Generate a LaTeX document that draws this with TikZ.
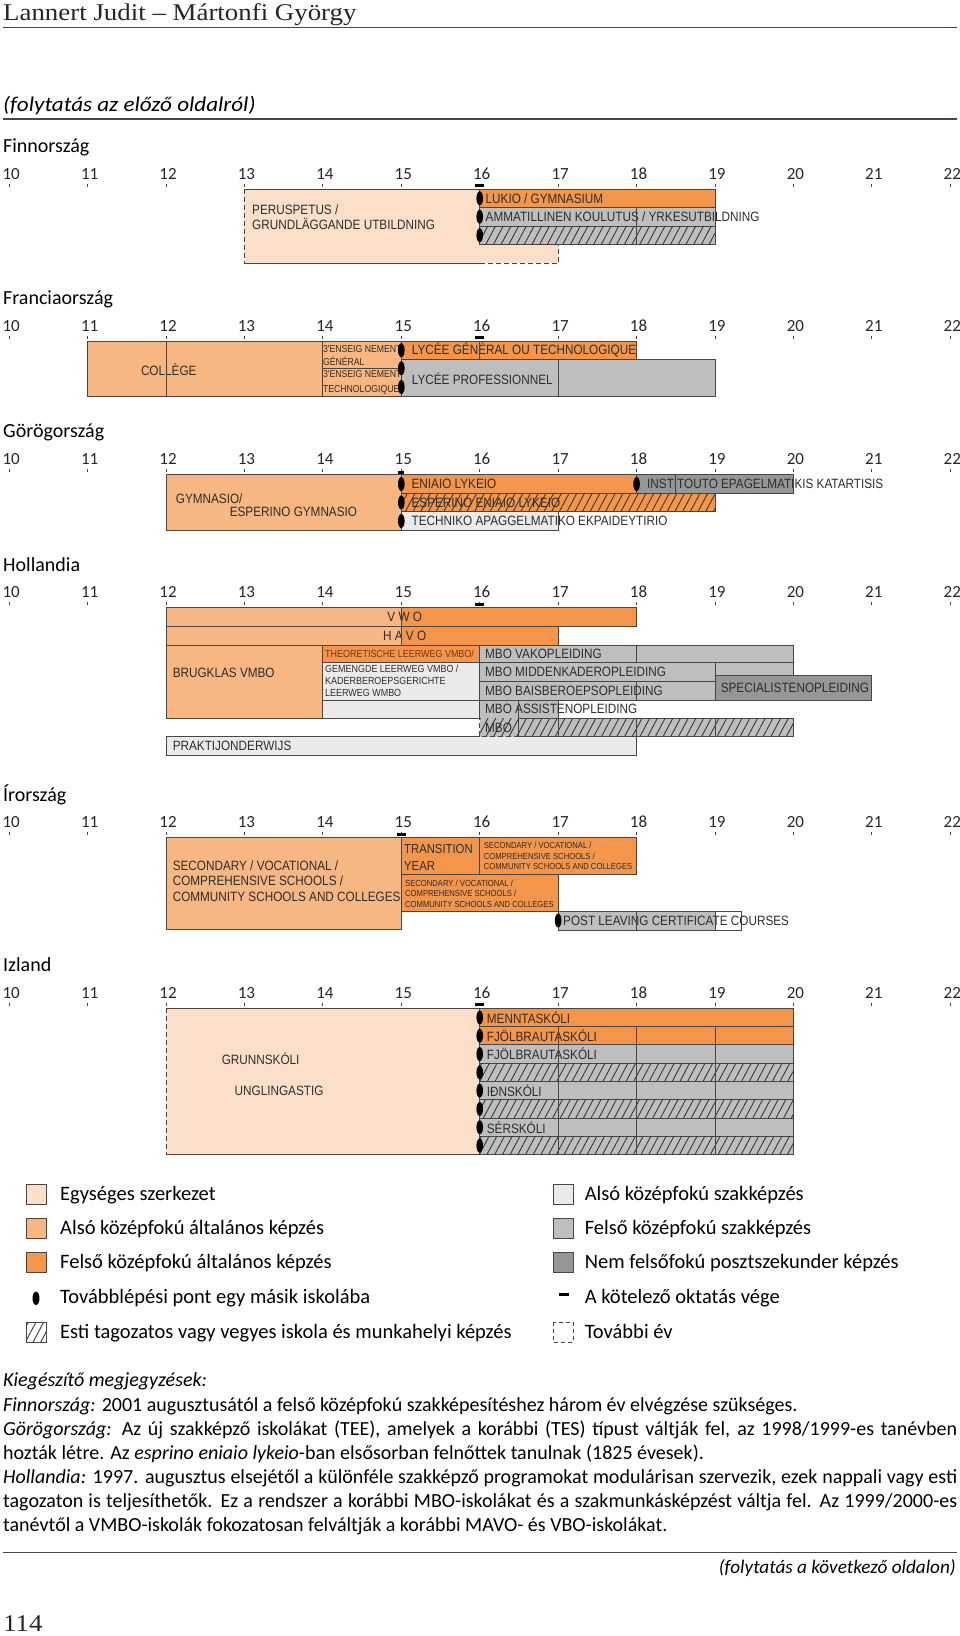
\documentclass[tikz,border=0pt]{standalone}
\usepackage{fontspec}
\newfontfamily\gill{Carlito}
\newfontfamily\barfont[FakeStretch=0.87]{Liberation Sans}
\newfontfamily\headfont[FakeStretch=1.12]{Liberation Serif}
\usetikzlibrary{patterns.meta}

\definecolor{egyseg}{RGB}{251,223,201}
\definecolor{alsoalt}{RGB}{246,183,130}
\definecolor{felsoalt}{RGB}{243,150,76}
\definecolor{alsosz}{RGB}{234,234,234}
\definecolor{felsosz}{RGB}{190,190,190}
\definecolor{poszt}{RGB}{150,150,150}
\definecolor{linec}{RGB}{75,68,64}
\definecolor{txtc}{RGB}{45,45,45}
\definecolor{hatchc}{RGB}{55,55,55}
\definecolor{theorc}{RGB}{130,45,15}

\tikzstyle{box} = [draw=linec, line width=0.9pt]
\tikzstyle{further} = [dash pattern=on 5pt off 3pt]
\tikzstyle{hatched} = [postaction={pattern={Lines[angle=62,distance=6.8pt,line width=0.9pt]}, pattern color=hatchc}]
\tikzstyle{lbl} = [anchor=west, inner sep=0pt, text=txtc, font=\barfont\fontsize{13.5}{15.7}\selectfont]
\tikzstyle{slbl} = [lbl, font=\barfont\fontsize{10.3}{12}\selectfont]
\tikzstyle{tlbl} = [lbl, font=\barfont\fontsize{8.8}{10.5}\selectfont]
\tikzstyle{ctitle} = [anchor=base west, inner sep=0pt, font=\gill\fontsize{20}{24}\selectfont]
\tikzstyle{yearlbl} = [anchor=base, inner sep=0pt, text=black!85, font=\gill\fontsize{17}{20}\selectfont]
\tikzstyle{legtext} = [anchor=base west, inner sep=0pt, font=\gill\fontsize{20.5}{24}\selectfont]
\tikzstyle{note} = [anchor=base west, inner sep=0pt, font=\gill\fontsize{20}{24}\selectfont]

\begin{document}
\begin{tikzpicture}[x=1pt, y=-1pt, declare function={yx(\a)=9.2+78.42*(\a-10);}]
\useasboundingbox (0,0) rectangle (960,1636);

% header
\node[anchor=base west, inner sep=0pt, text=black!85, font=\headfont\fontsize{24}{28}\selectfont] at (3,20.7) (author) {Lannert Judit – Mártonfi György};
\draw[line width=1.3pt, linec] (3,27.8) -- (957,27.8);
\node[anchor=base west, inner sep=0pt, font=\gill\itshape\fontsize{21}{24}\selectfont\addfontfeatures{FakeStretch=1.1}] at (3,111) (contprev) {(folytatás az előző oldalról)};
\draw[line width=1.3pt, linec] (3,119) -- (957,119);

\node[ctitle] at (3,152.8) (fi) {Finnország};
\node[ctitle] at (3,304.5) (fr) {Franciaország};
\node[ctitle] at (3,437.8) (gr) {Görögország};
\node[ctitle] at (3,571.2) (nl) {Hollandia};
\node[ctitle] at (3,801.2) (ie) {Írország};
\node[ctitle] at (3,971.8) (is) {Izland};

% age axes
\foreach \c/\t in {fi/189.3, fr/341, gr/474.3, nl/607.7, ie/837.7, is/1008.3} {
  \foreach \a in {10,...,22} {
    \node[yearlbl] at ({yx(\a)+2},\t-10) (\c-\a) {\a};
    \draw[line width=0.8pt, linec] ({yx(\a)},\t-5.5) -- ({yx(\a)},\t-2.5);
  }
}

% Finnorszag
\fill[egyseg] ({yx(13)},189.3) rectangle ({yx(16)},263.3);
\fill[egyseg] ({yx(16)},244.3) rectangle ({yx(17)},263.3);
\draw[box] ({yx(13)},189.3) -- ({yx(16)},189.3);
\draw[box] ({yx(13)},263.3) -- ({yx(16)},263.3);
\draw[box, further] ({yx(13)},189.3) -- ({yx(13)},263.3);
\draw[box, further] ({yx(16)},263.3) -- ({yx(17)},263.3) -- ({yx(17)},244.3);
\filldraw[box, fill=felsoalt] ({yx(16)},189.3) rectangle ({yx(19)},207.3);
\filldraw[box, fill=felsosz] ({yx(16)},207.3) rectangle ({yx(19)},226);
\filldraw[box, fill=felsosz, hatched] ({yx(16)},226) rectangle ({yx(19)},244.3);
\node[lbl, align=left] at (252,217.2) (fi-perus) {PERUSPETUS /\\GRUNDLÄGGANDE UTBILDNING};
\node[lbl] at (485.5,198.3) (fi-lukio) {LUKIO / GYMNASIUM};
\node[lbl] at (485.5,216.7) (fi-ammat) {AMMATILLINEN KOULUTUS / YRKESUTBILDNING};
\draw[box] ({yx(18)},207.3) -- ({yx(18)},244.3);
\foreach \y in {198.3,216.7,235.2}
  \fill[black] ({yx(16)},\y) ellipse [x radius=3.3pt, y radius=7pt];
\fill[black] ({yx(16)-4.5},184.3) rectangle ({yx(16)+4.5},187.3);

% Franciaorszag
\filldraw[box, fill=alsoalt] ({yx(11)},341) rectangle ({yx(14)},396.7);
\filldraw[box, fill=alsoalt] ({yx(14)},341) rectangle ({yx(15)},368.3);
\filldraw[box, fill=alsoalt] ({yx(14)},368.3) rectangle ({yx(15)},396.7);
\filldraw[box, fill=felsoalt] ({yx(15)},341) rectangle ({yx(18)},359.3);
\filldraw[box, fill=felsosz] ({yx(15)},359.3) rectangle ({yx(19)},396.7);
\node[lbl] at (140.8,369.3) (fr-college) {COLLÈGE};
\node[lbl, font=\barfont\fontsize{10}{13}\selectfont, align=left] at (322.8,355.3) (fr-gen) {3'ENSEIG NEMENT\\GÉNÉRAL};
\node[lbl, font=\barfont\fontsize{10}{14.5}\selectfont, align=left] at (322.8,382.3) (fr-tech) {3'ENSEIG NEMENT\\TECHNOLOGIQUE};
\node[lbl] at (411.7,350.2) (fr-lycgen) {LYCÉE GÉNÉRAL OU TECHNOLOGIQUE};
\node[lbl] at (411.7,378.3) (fr-lycpro) {LYCÉE PROFESSIONNEL};
\draw[box] ({yx(12)},341) -- ({yx(12)},396.7);
\draw[box] ({yx(16)},341) -- ({yx(16)},359.3);
\draw[box] ({yx(17)},359.3) -- ({yx(17)},396.7);
\foreach \y in {350.2,368.3,387}
  \fill[black] ({yx(15)},\y) ellipse [x radius=3.3pt, y radius=7pt];
\fill[black] ({yx(16)-4.5},336) rectangle ({yx(16)+4.5},339);

% Gorogorszag
\filldraw[box, fill=alsoalt] ({yx(12)},474.3) rectangle ({yx(15)},530);
\filldraw[box, fill=felsoalt] ({yx(15)},474.3) rectangle ({yx(18)},493.3);
\filldraw[box, fill=poszt] ({yx(18)},474.3) rectangle ({yx(20)},493.3);
\filldraw[box, fill=felsoalt, hatched] ({yx(15)},493.3) rectangle ({yx(19)},511.7);
\filldraw[box, fill=alsosz] ({yx(15)},511.7) rectangle ({yx(17)},530);
\node[lbl] at (175.7,499) (gr-gymn) {GYMNASIO/};
\node[lbl] at (229.6,512) (gr-esgymn) {ESPERINO GYMNASIO};
\node[lbl] at (411.4,484) (gr-eniaio) {ENIAIO LYKEIO};
\node[lbl] at (647,484) (gr-iek) {INSTITOUTO EPAGELMATIKIS KATARTISIS};
\node[lbl] at (411.4,502.5) (gr-espen) {ESPERINO ENIAIO LYKEIO};
\node[lbl] at (411.4,521) (gr-tee) {TECHNIKO APAGGELMATIKO EKPAIDEYTIRIO};
\draw[box] ({yx(18.5)},474.3) -- ({yx(18.5)},493.3);
\draw[box] ({yx(20)},474.3) -- ({yx(20)},493.3);
\draw[box] ({yx(17)},511.7) -- ({yx(17)},530);
\foreach \y in {484,502.5,521}
  \fill[black] ({yx(15)},\y) ellipse [x radius=3.3pt, y radius=7pt];
\fill[black] ({yx(18)},484) ellipse [x radius=3.3pt, y radius=7pt];
\fill[black] ({yx(15)-3},471.3) rectangle ({yx(15)+3},474.3);

% Hollandia
\fill[alsoalt] ({yx(12)},607.7) rectangle ({yx(15)},645);
\fill[felsoalt] ({yx(15)},607.7) rectangle ({yx(18)},626.7);
\fill[felsoalt] ({yx(15)},626.7) rectangle ({yx(17)},645);
\draw[box] ({yx(12)},607.7) rectangle ({yx(18)},626.7);
\draw[box] ({yx(12)},626.7) rectangle ({yx(17)},645);
\filldraw[box, fill=alsosz] ({yx(12)},736.7) rectangle ({yx(18)},755);
\filldraw[box, fill=alsoalt] ({yx(12)},645) rectangle ({yx(14)},718.3);
\filldraw[box, fill=felsoalt] ({yx(14)},645) rectangle ({yx(16)},662);
\filldraw[box, fill=alsosz] ({yx(14)},662) rectangle ({yx(16)},718.3);
\filldraw[box, fill=felsosz] ({yx(16)},645) rectangle ({yx(20)},662);
\filldraw[box, fill=felsosz] ({yx(16)},662) rectangle ({yx(20)},681);
\filldraw[box, fill=felsosz] ({yx(16)},681) rectangle ({yx(19)},700);
\filldraw[box, fill=poszt] ({yx(19)},675) rectangle ({yx(21)},700);
\filldraw[box, fill=felsosz] ({yx(16)},700) rectangle ({yx(17)},718.3);
\fill[felsosz, hatched] ({yx(16)},718.3) rectangle ({yx(20)},736.7);
\draw[box] ({yx(16.5)},718.3) -- ({yx(20)},718.3) -- ({yx(20)},736.7) -- ({yx(16.5)},736.7);
\draw[box, further] ({yx(16.5)},736.7) -- ({yx(16)},736.7) -- ({yx(16)},718.3);
\node[lbl] at (404,617.2) (nl-vwo) {\makebox[0pt]{V W O}};
\node[lbl] at (404,636) (nl-havo) {\makebox[0pt]{H A V O}};
\node[lbl] at (172.6,673.3) (nl-brug) {BRUGKLAS VMBO};
\node[slbl, text=theorc] at (325,654) (nl-theor) {THEORETISCHE LEERWEG VMBO/};
\node[slbl, align=left] at (325,681.3) (nl-gemengde) {GEMENGDE LEERWEG VMBO /\\KADERBEROEPSGERICHTE\\LEERWEG WMBO};
\node[lbl] at (485,653.5) (nl-vak) {MBO VAKOPLEIDING};
\node[lbl] at (485,671.5) (nl-midden) {MBO MIDDENKADEROPLEIDING};
\node[lbl] at (485,690.5) (nl-bais) {MBO BAISBEROEPSOPLEIDING};
\node[lbl] at (720.6,687.5) (nl-spec) {SPECIALISTENOPLEIDING};
\node[lbl] at (485,709.2) (nl-assist) {MBO ASSISTENOPLEIDING};
\node[lbl] at (485,727.5) (nl-mbo) {MBO};
\node[lbl] at (172.6,746) (nl-prakt) {PRAKTIJONDERWIJS};
\draw[box] ({yx(15)},607.7) -- ({yx(15)},645);
\draw[box] ({yx(14)},700) -- ({yx(16)},700);
\draw[box] ({yx(18)},645) -- ({yx(18)},662);
\draw[box] ({yx(19)},662) -- ({yx(19)},675);
\draw[box] ({yx(18)},681) -- ({yx(18)},700);
\draw[box] ({yx(16.5)},700) -- ({yx(16.5)},736.7);
\foreach \a in {17,18,19}
  \draw[box] ({yx(\a)},718.3) -- ({yx(\a)},736.7);
\fill[black] ({yx(16)-4.5},602.5) rectangle ({yx(16)+4.5},605.5);

% Irorszag
\filldraw[box, fill=alsoalt] ({yx(12)},837.7) rectangle ({yx(15)},929.3);
\filldraw[box, fill=felsoalt] ({yx(15)},837.7) rectangle ({yx(16)},874.3);
\filldraw[box, fill=felsoalt] ({yx(16)},837.7) rectangle ({yx(18)},874.3);
\filldraw[box, fill=felsoalt] ({yx(15)},874.3) rectangle ({yx(17)},911);
\draw[box] ({yx(17)},911) rectangle (741,930);
\filldraw[box, fill=felsosz] ({yx(17)},911) rectangle ({yx(19)},930);
\node[lbl, align=left, font=\barfont\fontsize{13.5}{15.8}\selectfont] at (172.6,881) (ie-sec) {SECONDARY / VOCATIONAL /\\COMPREHENSIVE SCHOOLS /\\COMMUNITY SCHOOLS AND COLLEGES};
\node[lbl, align=left, font=\barfont\fontsize{13}{16.7}\selectfont] at (404,857.7) (ie-ty) {TRANSITION\\YEAR};
\node[tlbl, align=left] at (483.6,856.3) (ie-sen) {SECONDARY / VOCATIONAL /\\COMPREHENSIVE SCHOOLS /\\COMMUNITY SCHOOLS AND COLLEGES};
\node[tlbl, align=left] at (405,893.8) (ie-jun) {SECONDARY / VOCATIONAL /\\COMPREHENSIVE SCHOOLS /\\COMMUNITY SCHOOLS AND COLLEGES};
\node[lbl] at (563,920.5) (ie-plc) {POST LEAVING CERTIFICATE COURSES};
\draw[box] ({yx(18)},911) -- ({yx(18)},930);
\draw[box] ({yx(19)},911) -- ({yx(19)},930);
\fill[black] ({yx(17)},920.5) ellipse [x radius=3.3pt, y radius=7pt];
\fill[black] ({yx(15)-4.5},832.7) rectangle ({yx(15)+4.5},835.7);

% Izland
\fill[egyseg] ({yx(12)},1008.3) rectangle ({yx(16)},1154.7);
\draw[box] ({yx(12)},1008.3) -- ({yx(16)},1008.3);
\draw[box] ({yx(12)},1154.7) -- ({yx(16)},1154.7);
\draw[box, further] ({yx(12)},1008.3) -- ({yx(12)},1154.7);
\filldraw[box, fill=felsoalt] ({yx(16)},1008.3) rectangle ({yx(20)},1026.6);
\filldraw[box, fill=felsoalt] ({yx(16)},1026.6) rectangle ({yx(20)},1044.9);
\filldraw[box, fill=felsosz] ({yx(16)},1044.9) rectangle ({yx(20)},1063.2);
\filldraw[box, fill=felsosz, hatched] ({yx(16)},1063.2) rectangle ({yx(20)},1081.5);
\filldraw[box, fill=felsosz] ({yx(16)},1081.5) rectangle ({yx(20)},1099.8);
\filldraw[box, fill=felsosz, hatched] ({yx(16)},1099.8) rectangle ({yx(20)},1118.1);
\filldraw[box, fill=felsosz] ({yx(16)},1118.1) rectangle ({yx(20)},1136.4);
\filldraw[box, fill=felsosz, hatched] ({yx(16)},1136.4) rectangle ({yx(20)},1154.7);
\node[lbl] at (221.6,1058.3) (is-grunn) {GRUNNSKÓLI};
\node[lbl] at (234.5,1090.7) (is-ungl) {UNGLINGASTIG};
\node[lbl] at (486.7,1017.5) (is-mennta) {MENNTASKÓLI};
\node[lbl] at (486.7,1035.8) (is-fjol1) {FJÖLBRAUTASKÓLI};
\node[lbl] at (486.7,1054.1) (is-fjol2) {FJÖLBRAUTASKÓLI};
\node[lbl] at (486.7,1090.7) (is-idn) {IÐNSKÓLI};
\node[lbl] at (486.7,1127.3) (is-sers) {SÉRSKÓLI};
\foreach \a in {17,18,19}
  \draw[box] ({yx(\a)},1026.6) -- ({yx(\a)},1154.7);
\foreach \i in {0,...,7}
  \fill[black] ({yx(16)},1017.45+18.3*\i) ellipse [x radius=3.3pt, y radius=7pt];
\fill[black] ({yx(16)-4.5},1003) rectangle ({yx(16)+4.5},1006);

% jelmagyarazat
\filldraw[box, fill=egyseg] (26,1184) rectangle (46,1204);
\filldraw[box, fill=alsoalt] (26,1218.5) rectangle (46,1238.5);
\filldraw[box, fill=felsoalt] (26,1252.5) rectangle (46,1272.5);
\fill[black] (36,1298.3) ellipse [x radius=3.5pt, y radius=6.7pt];
\filldraw[box, fill=white, hatched] (26,1322) rectangle (46,1342);
\filldraw[box, fill=alsosz] (553,1184) rectangle (573,1204);
\filldraw[box, fill=felsosz] (553,1218.5) rectangle (573,1238.5);
\filldraw[box, fill=poszt] (553,1252.5) rectangle (573,1272.5);
\fill[black] (559,1292.5) rectangle (569,1296);
\draw[box, dash pattern=on 4pt off 3pt] (553,1322) rectangle (573,1342);
\node[legtext] at (60,1200) (l-egyseg) {Egységes szerkezet};
\node[legtext] at (60,1234.5) (l-alsoalt) {Alsó középfokú általános képzés};
\node[legtext] at (60,1268.5) (l-felsoalt) {Felső középfokú általános képzés};
\node[legtext] at (60,1303.5) (l-pont) {Továbblépési pont egy másik iskolába};
\node[legtext] at (60,1338) (l-esti) {Esti tagozatos vagy vegyes iskola és munkahelyi képzés};
\node[legtext] at (584.6,1200) (l-alsosz) {Alsó középfokú szakképzés};
\node[legtext] at (584.6,1234.5) (l-felsosz) {Felső középfokú szakképzés};
\node[legtext] at (584.6,1268.5) (l-poszt) {Nem felsőfokú posztszekunder képzés};
\node[legtext] at (584.6,1303.5) (l-kotelezo) {A kötelező oktatás vége};
\node[legtext] at (584.6,1338) (l-tovabbi) {További év};

% megjegyzesek
\node[note] at (3,1386) (n0) {\itshape Kiegészítő megjegyzések:};
\node[note] at (3,1411.5) (n1) {{\itshape Finnország:} 2001 augusztusától a felső középfokú szakképesítéshez három év elvégzése szükséges.};
\node[note] at (3,1435.5) (n2) {\makebox[954pt][s]{{\itshape Görögország:} Az új szakképző iskolákat (TEE), amelyek a korábbi (TES) típust váltják fel, az 1998/1999-es tanévben}};
\node[note] at (3,1459.5) (n3) {hozták létre. Az {\itshape esprino eniaio lykeio}-ban elsősorban felnőttek tanulnak (1825 évesek).};
\node[note] at (3,1483.5) (n4) {\makebox[954pt][s]{{\itshape Hollandia:} 1997. augusztus elsejétől a különféle szakképző programokat modulárisan szervezik, ezek nappali vagy esti}};
\node[note] at (3,1507.5) (n5) {\makebox[954pt][s]{tagozaton is teljesíthetők. Ez a rendszer a korábbi MBO-iskolákat és a szakmunkásképzést váltja fel. Az 1999/2000-es}};
\node[note] at (3,1531.5) (n6) {tanévtől a VMBO-iskolák fokozatosan felváltják a korábbi MAVO- és VBO-iskolákat.};
\draw[line width=1.3pt, linec] (3,1552.7) -- (957,1552.7);
\node[anchor=base east, inner sep=0pt, font=\gill\itshape\fontsize{19.2}{24}\selectfont] at (956,1573) (contnext) {(folytatás a következő oldalon)};
\node[anchor=base west, inner sep=0pt, text=black!85, font=\headfont\fontsize{24}{28}\selectfont] at (3,1631) (page) {114};

\end{tikzpicture}
\end{document}
